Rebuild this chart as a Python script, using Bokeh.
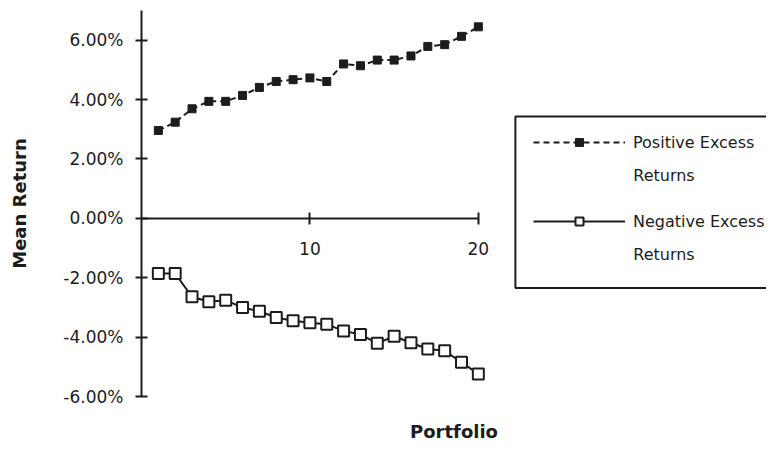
from bokeh.plotting import figure
from bokeh.models import (LinearAxis, FixedTicker, NumeralTickFormatter, Legend,
                          LegendItem, Label, BoxAnnotation, Range1d)
from bokeh.embed import file_html
from bokeh.resources import INLINE

# ---- data (percent) ----
portfolio = list(range(1, 21))
positive_excess = [2.96, 3.24, 3.69, 3.94, 3.94, 4.14, 4.41, 4.61, 4.67, 4.73,
                   4.61, 5.20, 5.14, 5.33, 5.33, 5.47, 5.79, 5.85, 6.13, 6.45]
negative_excess = [-1.86, -1.86, -2.64, -2.81, -2.76, -3.00, -3.13, -3.34, -3.45, -3.52,
                   -3.57, -3.79, -3.91, -4.21, -3.97, -4.19, -4.40, -4.46, -4.85, -5.24]
y_ticks = [-6, -4, -2, 0, 2, 4, 6]
x_ticks = [10, 20]
series_names = ["Positive Excess", "Negative Excess"]
series_suffix = "Returns"

pos = [v / 100 for v in positive_excess]
neg = [v / 100 for v in negative_excess]

INK = "#1c1c1c"
FONT = "DejaVu Sans"

p = figure(width=766, height=444, output_backend="svg", toolbar_location=None,
           x_range=Range1d(0, 37.11), y_range=Range1d(-0.06, 0.07),
           min_border_left=141, min_border_right=0, min_border_top=10,
           min_border_bottom=47)
p.outline_line_color = None
p.grid.visible = False

# x axis at y = 0
xa = p.xaxis[0]
xa.fixed_location = 0
xa.bounds = (0, 20)
xa.ticker = FixedTicker(ticks=x_ticks)
xa.minor_tick_line_color = None
xa.major_tick_in = 6
xa.major_tick_out = 6
xa.axis_line_width = 2
xa.major_tick_line_width = 2
xa.axis_line_color = INK
xa.major_tick_line_color = INK
xa.major_label_text_font = FONT
xa.major_label_text_font_size = "17px"
xa.major_label_text_color = INK
xa.major_label_standoff = 18

# y axis
ya = p.yaxis[0]
ya.ticker = FixedTicker(ticks=[t / 100 for t in y_ticks])
ya.formatter = NumeralTickFormatter(format="0.00%")
ya.bounds = (-0.06, 0.07)
ya.minor_tick_line_color = None
ya.major_tick_in = 6
ya.major_tick_out = 6
ya.axis_line_width = 2
ya.major_tick_line_width = 2
ya.axis_line_color = INK
ya.major_tick_line_color = INK
ya.major_label_text_font = FONT
ya.major_label_text_font_size = "17px"
ya.major_label_text_color = INK
ya.major_label_standoff = 12
ya.axis_label = "Mean Return"
ya.axis_label_text_font = FONT
ya.axis_label_text_font_style = "bold"
ya.axis_label_text_font_size = "18px"
ya.axis_label_text_color = INK
ya.axis_label_standoff = 30

# bottom title axis
ta = LinearAxis(ticker=FixedTicker(ticks=[]), axis_line_color=None,
                major_tick_line_color=None, minor_tick_line_color=None,
                axis_label="Portfolio", axis_label_text_font=FONT,
                axis_label_text_font_style="bold", axis_label_text_font_size="18px",
                axis_label_text_color=INK, axis_label_standoff=24)
p.add_layout(ta, "below")

# series
pos_line = p.line(portfolio, pos, line_color=INK, line_width=2, line_dash="6 4")
pos_pts = p.scatter(portfolio, pos, marker="square", size=8,
                    fill_color=INK, line_color=INK)
neg_line = p.line(portfolio, neg, line_color=INK, line_width=2)
neg_pts = p.scatter(portfolio, neg, marker="square", size=11,
                    fill_color="white", line_color=INK, line_width=2)

legend = Legend(items=[LegendItem(label=series_names[0], renderers=[pos_line, pos_pts]),
                       LegendItem(label=series_names[1], renderers=[neg_line, neg_pts])],
                location=(392, 165), border_line_color=None, background_fill_alpha=0,
                padding=0, margin=0, spacing=59, glyph_width=92, glyph_height=20,
                label_height=20, label_standoff=8, label_text_font=FONT,
                label_text_font_size="16px", label_text_color=INK)
p.add_layout(legend)

for yy in (0.01445, -0.0121):
    p.add_layout(Label(x=29.2, y=yy, text=series_suffix, text_baseline="middle",
                       text_font=FONT, text_font_size="16px", text_color=INK))

p.add_layout(BoxAnnotation(left=22.2, right=40, top=0.0343, bottom=-0.0235,
                           fill_alpha=0, line_color=INK, line_alpha=1, line_width=2))

open("out.html", "w").write(file_html(p, INLINE))
